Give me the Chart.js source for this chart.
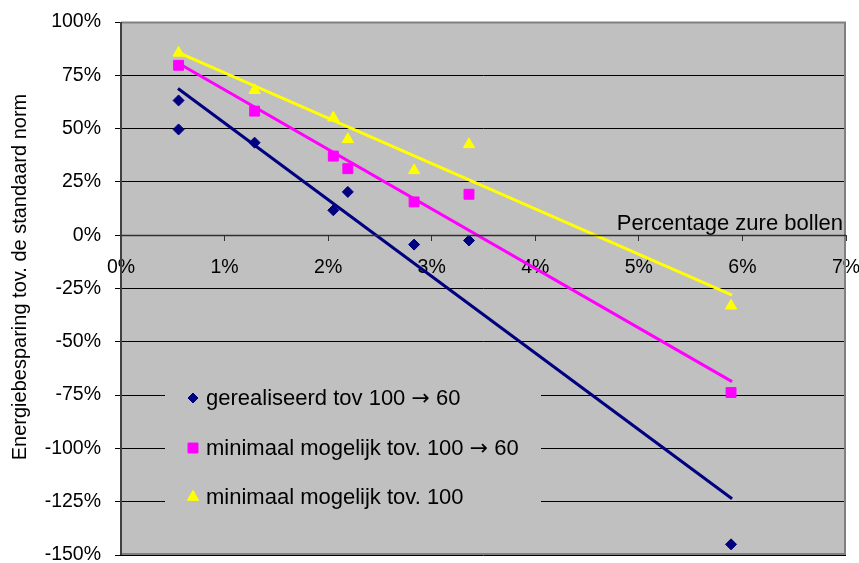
<!DOCTYPE html>
<html>
<head>
<meta charset="utf-8">
<script src="https://cdn.jsdelivr.net/npm/chart.js@4.4.1/dist/chart.umd.min.js"></script>
<style>
  html, body { margin: 0; padding: 0; background: #ffffff; }
  #wrap { width: 859px; height: 563px; }
</style>
</head>
<body>
<div id="wrap"><canvas id="c" width="859" height="563"></canvas></div>
<script>
// Percentage zure bollen (x) for each measurement
const xPct = [0.556, 0.556, 1.29, 2.05, 2.19, 2.83, 3.36, 5.89];
const xPctMin = [0.556, 1.29, 2.05, 2.19, 2.83, 3.36, 5.89];

// Energiebesparing (%) per series
const gerealiseerd = [63.2, 49.6, 43.4, 11.7, 20.3, -4.4, -2.5, -145];
const minimaalVan100Naar60 = [79.7, 58.2, 37.1, 31.2, 15.6, 19.2, -73.8];
const minimaalVan100 = [85.5, 68.0, 55.1, 45.0, 30.4, 42.6, -33.1];

// Linear trend lines: start and end (x, y)
const trendX = [0.55, 5.90];
const trendGerealiseerd = [68.8, -123.6];
const trendMin100Naar60 = [80.8, -68.7];
const trendMin100 = [85.8, -28.1];

const seriesLabels = [
  'gerealiseerd tov 100 \u2192 60',
  'minimaal mogelijk tov. 100 \u2192 60',
  'minimaal mogelijk tov. 100'
];
const yTicks = [100, 75, 50, 25, 0, -25, -50, -75, -100, -125, -150];
const xTicks = [0, 1, 2, 3, 4, 5, 6, 7];

const NAVY = '#000080', MAGENTA = '#FF00FF', YELLOW = '#FFFF00';
const FONT = '"Liberation Sans", Arial, sans-serif';
const ARROW_FONT = '"DejaVu Sans", sans-serif';

const pts = (xs, ys) => xs.map((x, i) => ({ x: x, y: ys[i] }));

// Draws text, setting the arrow glyph in a font with a full-width arrow
function drawMixedText(ctx, text, x, y, size) {
  const parts = text.split('\u2192');
  let cx = x;
  parts.forEach((part, i) => {
    ctx.font = size + 'px ' + FONT;
    ctx.fillText(part, cx, y);
    cx += ctx.measureText(part).width;
    if (i < parts.length - 1) {
      ctx.font = size + 'px ' + ARROW_FONT;
      ctx.fillText('\u2192', cx, y);
      cx += ctx.measureText('\u2192').width;
    }
  });
}

// Gray plot area and frame
const plotFrame = {
  id: 'plotFrame',
  beforeDraw(chart) {
    const { ctx, chartArea: a } = chart;
    ctx.save();
    ctx.fillStyle = '#C0C0C0';
    ctx.fillRect(a.left, a.top, a.right - a.left, a.bottom - a.top);
    ctx.restore();
  },
  afterDraw(chart) {
    const { ctx, chartArea: a } = chart;
    ctx.save();
    ctx.strokeStyle = '#808080';
    ctx.lineWidth = 2;
    ctx.beginPath();
    ctx.moveTo(a.left, a.top + 0.5);
    ctx.lineTo(a.right - 1, a.top + 0.5);
    ctx.lineTo(a.right - 1, a.bottom - 1);
    ctx.lineTo(a.left, a.bottom - 1);
    ctx.stroke();
    // vertical axis line
    ctx.strokeStyle = '#404040';
    ctx.beginPath();
    ctx.moveTo(a.left, a.top);
    ctx.lineTo(a.left, a.bottom);
    ctx.stroke();
    // horizontal axis line at 0%
    const y0 = Math.round(chart.scales.y.getPixelForValue(0)) + 0.5;
    ctx.lineWidth = 1.5;
    ctx.strokeStyle = '#303030';
    ctx.beginPath();
    ctx.moveTo(a.left, y0);
    ctx.lineTo(a.right, y0);
    ctx.stroke();
    ctx.restore();
  }
};

// Legend box inside the plot, plus axis titles
const legendAndTitles = {
  id: 'legendAndTitles',
  beforeDatasetsDraw(chart) {
    const { ctx, chartArea: a } = chart;
    ctx.save();
    ctx.fillStyle = '#C0C0C0';
    ctx.fillRect(165, 358, 376, 172);
    const rows = [398, 448, 497];
    const styles = [
      { shape: 'rectRot', color: NAVY, r: 5 },
      { shape: 'rect', color: MAGENTA, r: 7 },
      { shape: 'triangle', color: YELLOW, r: 6.5 }
    ];
    ctx.textBaseline = 'middle';
    ctx.textAlign = 'left';
    rows.forEach((y, i) => {
      const s = styles[i];
      ctx.fillStyle = s.color;
      ctx.strokeStyle = s.color;
      Chart.helpers.drawPoint(ctx, { pointStyle: s.shape, radius: s.r, borderWidth: 1 }, 193, y);
      ctx.fill();
      ctx.fillStyle = '#000000';
      drawMixedText(ctx, seriesLabels[i], 206, y + 1, 22);
    });
    // x axis title, inside the plot above the axis
    ctx.font = '22px ' + FONT;
    ctx.textAlign = 'right';
    ctx.fillText('Percentage zure bollen', a.right - 3, 224);
    ctx.restore();
  },
  afterDraw(chart) {
    const { ctx } = chart;
    ctx.save();
    ctx.font = '20px ' + FONT;
    ctx.fillStyle = '#000000';
    ctx.textAlign = 'center';
    ctx.textBaseline = 'middle';
    ctx.translate(20, 277);
    ctx.rotate(-Math.PI / 2);
    ctx.fillText('Energiebesparing tov. de standaard norm', 0, 0);
    ctx.restore();
  }
};

const scatterSet = (label, data, color, style, r) => ({
  type: 'scatter', label, data,
  backgroundColor: color, borderColor: color,
  pointStyle: style, pointRadius: r, pointHoverRadius: r, borderWidth: 1,
  showLine: false, order: 1
});
const trendSet = (data, color) => ({
  type: 'line', data, borderColor: color, borderWidth: 3,
  pointRadius: 0, fill: false, tension: 0, order: 2
});

const zeroPadding = s => { s.paddingLeft = 0; s.paddingRight = 0; s.paddingTop = 0; s.paddingBottom = 0; };

new Chart(document.getElementById('c'), {
  type: 'scatter',
  data: {
    datasets: [
      trendSet(pts(trendX, trendGerealiseerd), NAVY),
      trendSet(pts(trendX, trendMin100Naar60), MAGENTA),
      trendSet(pts(trendX, trendMin100), YELLOW),
      scatterSet(seriesLabels[0], pts(xPct, gerealiseerd), NAVY, 'rectRot', 5.5),
      scatterSet(seriesLabels[1], pts(xPctMin, minimaalVan100Naar60), MAGENTA, 'rect', 7),
      scatterSet(seriesLabels[2], pts(xPctMin, minimaalVan100), YELLOW, 'triangle', 6.5)
    ]
  },
  options: {
    responsive: false,
    animation: false,
    devicePixelRatio: 1,
    layout: { padding: { top: 22, right: 13, bottom: 7, left: 0 } },
    plugins: { legend: { display: false }, tooltip: { enabled: false } },
    scales: {
      x: {
        type: 'linear', min: 0, max: 7,
        position: { y: 0 },
        afterBuildTicks: s => { s.ticks = xTicks.map(v => ({ value: v })); },
        afterFit: zeroPadding,
        ticks: {
          callback: v => v + '%', color: '#000000',
          font: { family: FONT, size: 19.5 }, padding: 15, maxRotation: 0
        },
        grid: { drawOnChartArea: false, drawTicks: true, tickLength: 6, color: '#303030', lineWidth: 1 },
        border: { display: false }
      },
      y: {
        type: 'linear', min: -150, max: 100,
        afterBuildTicks: s => { s.ticks = yTicks.map(v => ({ value: v })); },
        afterFit: s => { s.width = 121; zeroPadding(s); },
        ticks: {
          callback: v => v + '%', color: '#000000',
          font: { family: FONT, size: 19.5 }, padding: 14
        },
        grid: { color: '#000000', lineWidth: 1, tickLength: 6 },
        border: { display: false }
      }
    }
  },
  plugins: [plotFrame, legendAndTitles]
});
</script>
</body>
</html>
